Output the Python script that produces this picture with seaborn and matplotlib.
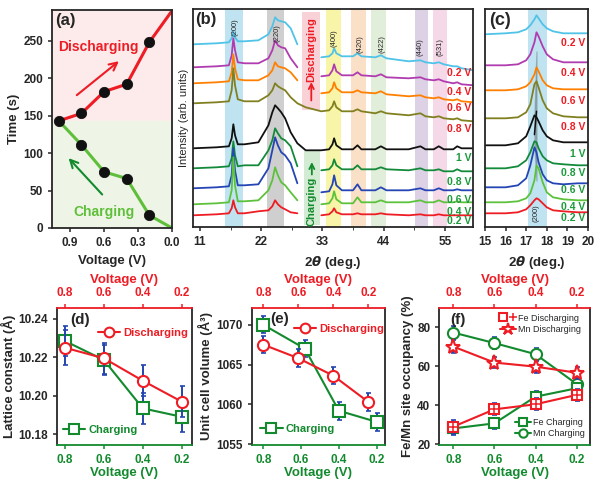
import matplotlib
matplotlib.use("Agg")
import matplotlib.pyplot as plt
from matplotlib.lines import Line2D
from matplotlib.legend_handler import HandlerTuple
from matplotlib.ticker import MultipleLocator
import numpy as np
import pandas as pd
import seaborn as sns

# ---------------- (a) time vs voltage ----------------
a_volt = [1.0, 0.8, 0.6, 0.4, 0.2]
a_dis_time = [143, 153, 182, 192, 248]
a_chg_time = [143, 111, 75, 66, 17]
a_end_volt = 0.0
a_dis_end = 290
a_chg_end = 0

# ---------------- (b) XRD patterns (offset, arb. units) ----------------
nan = np.nan
b_theta = [9.8, 14.0, 16.2, 16.7, 17.0, 17.3, 17.8, 19.0, 21.5, 23.3,
           24.0, 24.5, 25.0, 25.6, 26.3, 27.3, 28.5, 30.0, 32.8, 34.2,
           34.8, 35.1, 35.5, 36.5, 38.5, 39.3, 40.0, 42.5, 43.5, 44.5,
           48.5, 50.6, 51.5, 53.0, 53.9, 54.8, 56.5, 57.2, 58.0, 60.1]
b_cyan = [183, 184, 185, 189, 196, 190, 186, 186, 187, 193, 201, 210, 207, 206, 205, 199, 183, nan, 170, 171,
          174, 179, 174, 171, 171, 174, 171, 170, 172, 169, 166, 167, 165, 164, 165, 163, 161, 161, 159, 157]
b_magenta = [160, 161, 162, 172, 189, 177, 165, 164, 164, 169, 177, 187, 182, 180, 179, 169, 160, nan, 151, 152,
             157, 163, 156, 152, 152, 155, 152, 151, 153, 150, 149, 150, 148, 147, 148, 146, 144, 145, 143, 142]
b_orange = [144, 145, 146, 155, 173, 159, 148, 147, 147, 152, 157, 165, 161, 160, 159, 155, 147, nan, 134, 135,
            139, 145, 139, 135, 135, 137, 135, 134, 136, 133, 131, 132, 130, 129, 130, 128, 127, 128, 126, 125]
b_olive = [124, 125, 126, 137, 159, 142, 128, 126, 126, 132, 137, 144, 141, 139, 137, 130, 124, 120, 116, 117,
           121, 126, 120, 116, 116, 118, 116, 114, 116, 114, 112, 114, 111, 110, 111, 109, 108, 109, 107, 106]
b_black = [79, 80, 81, 89, 103, 92, 83, 83, 85, 102, 115, 122, 119, 115, 109, 95, 84, 77, 77, 78,
           83, 89, 82, 78, 78, 82, 78, 78, 81, 78, 78, 81, 78, 78, 81, 78, 78, 81, 79, 79]
b_dkgreen = [59, 60, 61, 69, 86, 72, 61, 62, 62, 77, 87, 99, 94, 89, 87, 81, 61, nan, 57, 58,
             62, 68, 62, 58, 58, 62, 58, 58, 60, 58, 57, 59, 57, 57, 58, 56, 56, 58, 56, 56]
b_blue = [39, 40, 41, 52, 79, 57, 42, 42, 43, 59, 77, 90, 82, 75, 72, 64, 44, nan, 35, 36,
          43, 52, 42, 37, 37, 43, 37, 37, 40, 37, 37, 39, 37, 37, 39, 37, 37, 38, 37, 37]
b_ltgreen = [23, 24, 25, 37, 70, 42, 26, 26, 27, 37, 47, 60, 52, 45, 42, 35, 27, nan, 23, 24,
             29, 36, 28, 24, 24, 30, 25, 25, 27, 25, 25, 27, 25, 25, 27, 25, 25, 26, 25, 25]
b_red = [12, 13, 14, 19, 27, 20, 14, 14, 16, 17, 21, 27, 23, 20, 18, 15, 14, nan, 12, 13,
         16, 19, 15, 13, 13, 14, 13, 13, 14, 13, 12, 13, 12, 12, 13, 12, 12, 12, 12, 12]

b_peak_names = ["(200)", "(220)", "(400)", "(420)", "(422)", "(440)", "(531)"]
b_peak_pos = [17.3, 24.9, 35.1, 39.7, 43.7, 50.6, 54.1]
b_peak_lab_y = [200, 194, 189, 183, 183, 180, 180]
b_band_lo = [15.5, 23.0, 33.7, 38.1, 41.7, 49.6, 52.8]
b_band_hi = [18.7, 26.1, 36.3, 40.8, 44.4, 52.0, 55.3]

volt_labels = ["0.2 V", "0.4 V", "0.6 V", "0.8 V", "1 V", "0.8 V", "0.6 V", "0.4 V", "0.2 V"]
b_label_y = [154, 135, 119, 98, 69, 45, 27, 15, 6]

# ---------------- (c) zoom on (200) ----------------
c_theta = [15.0, 16.0, 16.6, 17.0, 17.2, 17.4, 17.5, 17.6, 17.8, 18.0, 18.3, 18.8, 19.5, 20.0]
c_cyan = [193, 194, 195, 198, 202, 208, 212, 209, 203, 199, 196, 194, 194, 194]
c_magenta = [162, 162, 163, 167, 173, 185, 195, 191, 181, 173, 168, 165, 165, 165]
c_orange = [137, 137, 138, 141, 145, 153, 160, 156, 147, 142, 139, 138, 138, 138]
c_olive = [109, 109, 110, 115, 123, 143, 146, 140, 127, 119, 114, 111, 110, 110]
c_black = [82, 82, 84, 91, 101, 112, 110, 106, 97, 91, 87, 85, 85, 85]
c_dkgreen = [59, 59, 61, 67, 75, 86, 85, 79, 71, 67, 64, 63, 62, 62]
c_blue = [40, 40, 42, 49, 62, 80, 75, 65, 53, 47, 44, 43, 44, 44]
c_ltgreen = [25, 25, 26, 29, 34, 47, 62, 59, 45, 35, 30, 28, 27, 27]
c_red = [14, 14, 15, 18, 22, 27, 29, 28, 24, 20, 17, 16, 15, 15]
c_label_y = [184, 154, 126, 100, 73, 54, 37, 20, 9]

# ---------------- (d)-(f) refined parameters ----------------
volt = [0.8, 0.6, 0.4, 0.2]
d_dis = [10.225, 10.2195, 10.2078, 10.1969]
d_dis_err = [0.009, 0.008, 0.008, 0.008]
d_chg = [10.2285, 10.2186, 10.1934, 10.189]
d_chg_err = [0.008, 0.008, 0.008, 0.008]

e_dis = [1067.5, 1065.8, 1063.6, 1060.3]
e_chg_volt = [0.8, 0.58, 0.4, 0.2]
e_chg = [1070.0, 1067.0, 1059.2, 1057.8]
e_err = [1.1, 1.1, 1.1, 1.1]

f_fe_dis = [28.9, 37.8, 40.4, 45.2]
f_mn_dis = [70.0, 61.8, 59.7, 56.6]
f_fe_chg = [28.0, 30.6, 44.3, 48.6]
f_mn_chg = [77.2, 71.8, 66.1, 50.8]
f_err = [3.5, 3.0, 3.0, 3.0]

RED = "#ee1c24"
GREEN = "#138a2e"
LTGREEN = "#5fbf3a"
EBLUE = "#2545b0"
trace_colors = ["#4fc3e8", "#b03cb0", "#ff8000", "#808020", "#111111",
                "#138a3a", "#2545b5", "#5cc23c", "#ee1c24"]
label_colors = [RED] * 4 + ["#1a9a3a"] * 5

sns.set_style("ticks")
plt.rcParams.update({
    "font.family": ["Liberation Sans", "DejaVu Sans"],
    "font.weight": "bold",
    "axes.labelweight": "bold",
    "axes.linewidth": 1.3,
    "xtick.labelsize": 8.5,
    "ytick.labelsize": 8.5,
    "axes.labelsize": 9.5,
    "xtick.major.width": 1.1,
    "ytick.major.width": 1.1,
    "xtick.major.size": 3,
    "ytick.major.size": 3,
    "mathtext.default": "it",
})

fig = plt.figure(figsize=(6, 4.82), dpi=100)
W, H = 600.0, 482.0


def px_axes(l, r, t, b):
    return fig.add_axes([l / W, 1 - b / H, (r - l) / W, (b - t) / H])


def long_traces(theta, traces):
    rows = []
    for k, tr in enumerate(traces):
        seg = 0
        for x, y in zip(theta, tr):
            if np.isnan(y):
                seg += 1
                continue
            rows.append({"theta": x, "I": y, "trace": k, "seg": f"{k}_{seg}"})
    return pd.DataFrame(rows)


# ================= (a) =================
ax = px_axes(52, 172, 10, 228)
ax.axhspan(143, 300, color="#fdeaea", zorder=0)
ax.axhspan(0, 143, color="#eef5e6", zorder=0)
sns.lineplot(x=a_volt + [a_end_volt], y=a_dis_time + [a_dis_end], ax=ax,
             color=RED, lw=2.2, sort=False)
sns.lineplot(x=a_volt + [a_end_volt], y=a_chg_time + [a_chg_end], ax=ax,
             color=LTGREEN, lw=2.2, sort=False)
sns.scatterplot(x=a_volt + a_volt[1:], y=a_dis_time + a_chg_time[1:], ax=ax,
                color="#111111", s=55, edgecolor="#111111", zorder=4)
ax.set_xlim(1.06, 0.0)
ax.set_ylim(0, 291)
ax.set_xticks([0.9, 0.6, 0.3, 0.0])
ax.set_yticks([0, 50, 100, 150, 200, 250])
ax.set_xlabel("Voltage (V)")
ax.set_ylabel("Time (s)", labelpad=2)
ax.annotate("", xy=(0.45, 225), xytext=(0.86, 175),
            arrowprops=dict(arrowstyle="->", color=RED, lw=1.5, mutation_scale=14))
ax.annotate("", xy=(0.93, 96), xytext=(0.60, 42),
            arrowprops=dict(arrowstyle="->", color=GREEN, lw=1.5, mutation_scale=14))
ax.text(0.65, 241, "Discharging", color=RED, fontsize=10, ha="center", va="center")
ax.text(0.60, 22, "Charging", color=LTGREEN, fontsize=10, ha="center", va="center")
ax.text(0.03, 0.985, "(a)", transform=ax.transAxes, fontsize=12, va="top")

# ================= (b) =================
ax = px_axes(192.7, 473.3, 9, 227.3)
for lo, hi, c in zip(b_band_lo, b_band_hi,
                     ["#bfe3f0", "#cfcfcf", "#f8f4a8", "#fbe0c8", "#e1eed9", "#ddd1e6", "#f5d9e9"]):
    ax.axvspan(lo, hi, color=c, zorder=0, lw=0)
ax.add_patch(plt.Rectangle((29.4, 117), 3.1, 98, color="#f9d2d8", zorder=0.5, lw=0))
ax.add_patch(plt.Rectangle((29.7, 2), 2.8, 75, color="#d3ebd3", zorder=0.5, lw=0))
b_traces = [b_cyan, b_magenta, b_orange, b_olive, b_black, b_dkgreen, b_blue, b_ltgreen, b_red]
dfb = long_traces(b_theta, b_traces)
sns.lineplot(data=dfb, x="theta", y="I", hue="trace", units="seg", estimator=None,
             palette=trace_colors, lw=1.3, legend=False, ax=ax)
for name, x, y in zip(b_peak_names, b_peak_pos, b_peak_lab_y):
    ax.text(x, y, name, rotation=90, fontsize=5.5, fontweight="normal",
            ha="center", va="center")
ax.text(31.0, 178, "Discharging", rotation=90, color=RED, fontsize=8, ha="center", va="center")
ax.annotate("", xy=(31.0, 148), xytext=(31.0, 124),
            arrowprops=dict(arrowstyle="->", color=RED, lw=1.3, mutation_scale=9))
ax.text(31.1, 26, "Charging", rotation=90, color=GREEN, fontsize=8, ha="center", va="center")
ax.annotate("", xy=(31.1, 68), xytext=(31.1, 50),
            arrowprops=dict(arrowstyle="->", color=GREEN, lw=1.3, mutation_scale=9))
for lab, y, c in zip(volt_labels, b_label_y, label_colors):
    ax.text(59.7, y, lab, color=c, fontsize=7.5, ha="right", va="center")
ax.set_xlim(9.7, 60.1)
ax.set_ylim(0, 218.3)
ax.set_xticks([11, 22, 33, 44, 55])
ax.xaxis.set_minor_locator(MultipleLocator(5.5))
ax.tick_params(axis="x", which="minor", length=2)
ax.set_yticks([])
ax.set_xlabel(r"2$\theta$ (deg.)")
ax.set_ylabel("Intensity (arb. units)", fontsize=8, fontweight="normal", labelpad=3)
ax.text(0.01, 0.985, "(b)", transform=ax.transAxes, fontsize=12, va="top")

# ================= (c) =================
ax = px_axes(485, 588, 9, 227.3)
ax.axvspan(17.1, 18.0, color="#bfe3f0", zorder=0, lw=0)
c_traces = [c_cyan, c_magenta, c_orange, c_olive, c_black, c_dkgreen, c_blue, c_ltgreen, c_red]
dfc = long_traces(c_theta, c_traces)
sns.lineplot(data=dfc, x="theta", y="I", hue="trace", units="seg", estimator=None,
             palette=trace_colors, lw=1.3, legend=False, ax=ax)
peak_x = [c_theta[int(np.argmax(tr))] for tr in c_traces]
peak_y = [max(tr) for tr in c_traces]
sns.lineplot(x=peak_x + [peak_x[-1]], y=peak_y + [8], sort=False, color="#111111",
             lw=1.1, ax=ax)
ax.text(17.48, 14, "(200)", rotation=90, fontsize=5.5, fontweight="normal",
        ha="center", va="center")
for lab, y, c in zip(volt_labels, c_label_y, label_colors):
    ax.text(19.88, y, lab, color=c, fontsize=7.5, ha="right", va="center")
ax.set_xlim(15, 20)
ax.set_ylim(0, 218.3)
ax.set_xticks([15, 16, 17, 18, 19, 20])
ax.set_yticks([])
ax.set_xlabel(r"2$\theta$ (deg.)")
ax.set_ylabel("")
ax.text(0.04, 0.985, "(c)", transform=ax.transAxes, fontsize=13, va="top")


# ================= (d)-(f) helpers =================
def twin_voltage(ax, lim_bottom, lim_top):
    top = ax.twiny()
    ax.set_xlim(*lim_bottom)
    top.set_xlim(*lim_top)
    for a in (ax, top):
        a.set_xticks(volt)
    ax.spines["bottom"].set_color(GREEN)
    ax.spines["top"].set_visible(False)
    for s in ("bottom", "left", "right"):
        top.spines[s].set_visible(False)
    top.spines["top"].set_color(RED)
    ax.tick_params(axis="x", colors=GREEN)
    top.tick_params(axis="x", colors=RED)
    ax.set_xlabel("Voltage (V)", color=GREEN, labelpad=1)
    top.set_xlabel("Voltage (V)", color=RED, labelpad=3)
    return top


def series(ax, x, y, err, color, marker, ms=8):
    ax.errorbar(x, y, yerr=err, fmt="none", ecolor=EBLUE, elinewidth=1.4,
                capsize=1.8, capthick=1.2, zorder=1.5)
    sns.lineplot(x=x, y=y, ax=ax, color=color, lw=1.5, marker=marker, markersize=ms,
                 mfc="white", mec=color, mew=1.5, zorder=3)


def handle(color, marker, ms=7):
    return Line2D([], [], color=color, lw=1.5, marker=marker, markersize=ms,
                  mfc="white", mec=color, mew=1.5)


leg_kw = dict(loc="center left", frameon=False, fontsize=8, handlelength=2.0,
              handletextpad=0.3)

# ================= (d) =================
ax = px_axes(57, 192, 308, 445)
top = twin_voltage(ax, (0.841, 0.147), (0.841, 0.147))
series(ax, volt, d_chg, d_chg_err, GREEN, "s")
series(top, volt, d_dis, d_dis_err, RED, "o")
ax.set_ylim(10.1743, 10.2457)
ax.set_yticks([10.18, 10.20, 10.22, 10.24])
ax.set_ylabel("Lattice constant (Å)", labelpad=2)
leg = ax.legend(handles=[handle(RED, "o")], labels=["Discharging"],
                bbox_to_anchor=(0.23, 0.82), labelcolor=RED, **leg_kw)
ax.add_artist(leg)
ax.legend(handles=[handle(GREEN, "s")], labels=["Charging"],
          bbox_to_anchor=(-0.03, 0.11), labelcolor=GREEN, **leg_kw)
ax.text(0.1, 0.96, "(d)", transform=ax.transAxes, fontsize=11, va="top")

# ================= (e) =================
ax = px_axes(251.7, 385, 308, 445)
top = twin_voltage(ax, (0.861, 0.156), (0.866, 0.105))
series(ax, e_chg_volt, e_chg, e_err, GREEN, "s")
series(top, volt, e_dis, e_err, RED, "o")
ax.set_ylim(1054.9, 1072.1)
ax.set_yticks([1055, 1060, 1065, 1070])
ax.set_ylabel("Unit cell volume (Å³)", labelpad=2)
leg = ax.legend(handles=[handle(RED, "o")], labels=["Discharging"],
                bbox_to_anchor=(0.24, 0.85), labelcolor=RED, **leg_kw)
ax.add_artist(leg)
ax.legend(handles=[handle(GREEN, "s")], labels=["Charging"],
          bbox_to_anchor=(-0.01, 0.12), labelcolor=GREEN, **leg_kw)
ax.text(0.14, 0.97, "(e)", transform=ax.transAxes, fontsize=11, va="top")

# ================= (f) =================
ax = px_axes(439.3, 590, 308, 445)
top = twin_voltage(ax, (0.868, 0.135), (0.868, 0.135))
series(ax, volt, f_mn_chg, f_err, GREEN, "o", ms=8)
series(ax, volt, f_fe_chg, f_err, GREEN, "s", ms=7)
series(top, volt, f_mn_dis, f_err, RED, "*", ms=11)
series(top, volt, f_fe_dis, f_err, RED, "s", ms=7)
sns.scatterplot(x=volt, y=f_fe_dis, ax=top, marker="+", color=RED, s=30,
                linewidth=1.1, zorder=4)
ax.set_ylim(19.5, 89.8)
ax.set_yticks([20, 40, 60, 80])
ax.set_ylabel("Fe/Mn site occupancy (%)", labelpad=2)
fe_dis_h = (handle(RED, "s", 6),
            Line2D([], [], ls="none", marker="+", color=RED, markersize=6, mew=1.1))
hm = {tuple: HandlerTuple(ndivide=None)}
small_kw = dict(loc="center left", frameon=False, prop={"size": 6.5, "weight": "normal"},
                handlelength=1.8, handletextpad=0.2, labelspacing=0.25)
leg = ax.legend(handles=[fe_dis_h, handle(RED, "*", 9)],
                labels=["Fe Discharging", "Mn Discharging"], handler_map=hm,
                bbox_to_anchor=(0.35, 0.885), **small_kw)
ax.add_artist(leg)
ax.legend(handles=[handle(GREEN, "s", 6), handle(GREEN, "o", 6)],
          labels=["Fe Charging", "Mn Charging"],
          bbox_to_anchor=(0.45, 0.125), **small_kw)
ax.text(0.07, 0.96, "(f)", transform=ax.transAxes, fontsize=11, va="top")

fig.savefig("out.png", dpi=100)
